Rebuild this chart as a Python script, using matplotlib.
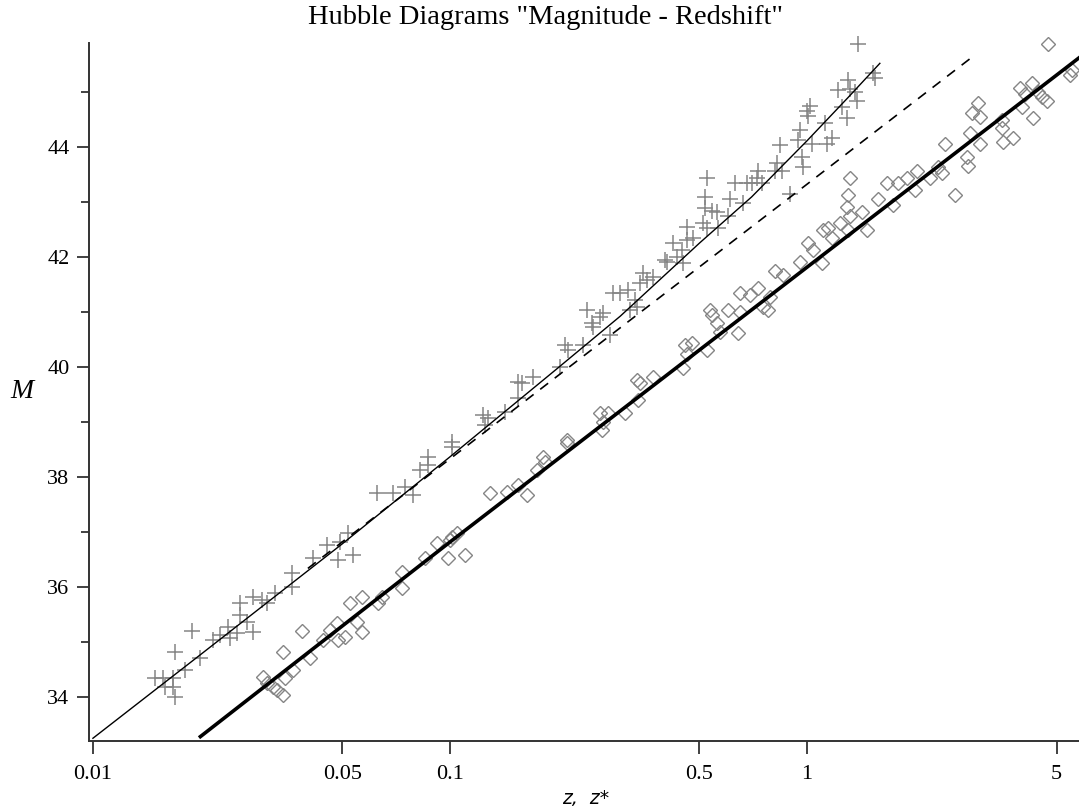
import matplotlib
matplotlib.use("Agg")
import matplotlib.pyplot as plt
from matplotlib.ticker import FixedLocator, FixedFormatter, NullLocator, MultipleLocator

# ---- data ----
z_plus = [0.0149, 0.0157, 0.0159, 0.0168, 0.0168, 0.0170, 0.0170, 0.0181, 0.0189, 0.0200,
          0.0217, 0.0227, 0.0239, 0.0242, 0.0253, 0.0258, 0.0258, 0.0270, 0.0281, 0.0281,
          0.0297, 0.0307, 0.0323, 0.0361, 0.0361, 0.0413, 0.0452, 0.0485, 0.0492, 0.0518,
          0.0535, 0.0625, 0.0692, 0.0748, 0.0788, 0.0824, 0.0868, 0.0868, 0.1013, 0.1013,
          0.1236, 0.1276, 0.1253, 0.1426, 0.1549, 0.1591, 0.1708, 0.1549, 0.2032, 0.2099,
          0.2142, 0.2360, 0.2421, 0.2500, 0.2518, 0.2633, 0.2685, 0.2808, 0.2864, 0.2994,
          0.3153, 0.3193, 0.3298, 0.3342, 0.3404, 0.3474, 0.3565, 0.3707, 0.4003, 0.4058,
          0.4219, 0.4325, 0.4467, 0.4498, 0.4613, 0.4613, 0.4797, 0.5117, 0.5250, 0.5179,
          0.5179, 0.5250, 0.5422, 0.5599, 0.5636, 0.6012, 0.6085, 0.6285, 0.6617, 0.6792,
          0.7015, 0.7245, 0.7294, 0.7483, 0.8136, 0.8241, 0.8396, 0.8505, 0.8954, 0.9436,
          0.9550, 0.9679, 0.9744, 1.000, 1.006, 1.019, 1.032, 1.122, 1.137, 1.175,
          1.221, 1.253, 1.294, 1.303, 1.319, 1.362, 1.380, 1.389, 1.531, 1.552]
M_plus = [34.35, 34.35, 34.18, 34.35, 34.18, 34.00, 34.82, 34.49, 35.20, 34.71,
          35.04, 35.13, 35.27, 35.07, 35.16, 35.71, 35.49, 35.36, 35.18, 35.82,
          35.76, 35.71, 35.89, 36.25, 36.00, 36.53, 36.76, 36.49, 36.82, 36.98,
          36.58, 37.71, 37.71, 37.82, 37.67, 38.13, 38.36, 38.22, 38.64, 38.55,
          39.13, 39.07, 38.95, 39.18, 39.73, 39.71, 39.82, 39.44, 40.00, 40.40,
          40.31, 40.40, 41.04, 40.80, 40.73, 40.91, 40.98, 40.58, 41.35, 41.35,
          41.40, 41.04, 41.22, 41.09, 41.53, 41.71, 41.58, 41.64, 41.95, 41.91,
          42.27, 42.00, 42.13, 41.89, 42.55, 42.31, 42.36, 42.62, 42.53, 42.89,
          43.09, 43.44, 42.85, 42.82, 42.53, 42.76, 43.07, 43.35, 42.98, 43.35,
          43.35, 43.44, 43.58, 43.35, 43.58, 43.71, 44.04, 43.58, 43.16, 44.13,
          44.31, 43.82, 43.64, 44.67, 44.58, 44.76, 44.07, 44.44, 44.07, 44.18,
          45.04, 44.73, 44.53, 45.22, 45.07, 45.00, 44.85, 45.89, 45.36, 45.27]

z_diam = [0.0299, 0.0307, 0.0319, 0.0328, 0.0340, 0.0345, 0.0340, 0.0363, 0.0385, 0.0405,
          0.0441, 0.0461, 0.0482, 0.0485, 0.0508, 0.0525, 0.0549, 0.0567, 0.0567, 0.0629,
          0.0645, 0.0734, 0.0734, 0.0851, 0.0920, 0.0987, 0.1000, 0.1013, 0.1047, 0.1102,
          0.1295, 0.1445, 0.1549, 0.1642, 0.1753, 0.1823, 0.1846, 0.2128, 0.2128, 0.2633,
          0.2685, 0.2667, 0.2773, 0.3093, 0.3342, 0.3404, 0.3365, 0.3707, 0.4498, 0.4550,
          0.4613, 0.4764, 0.5250, 0.5350, 0.5422, 0.5599, 0.5705, 0.6012, 0.6413, 0.6489,
          0.6489, 0.6918, 0.7294, 0.7534, 0.7780, 0.7871, 0.8128, 0.8570, 0.9550, 1.006,
          1.040, 1.102, 1.109, 1.145, 1.175, 1.237, 1.294, 1.303, 1.319, 1.303,
          1.319, 1.426, 1.472, 1.580, 1.675, 1.741, 1.798, 1.906, 2.008, 2.032,
          2.211, 2.329, 2.389, 2.436, 2.600, 2.807, 2.826, 2.864, 2.900, 3.013,
          3.052, 3.052, 3.518, 3.518, 3.540, 3.775, 3.952, 4.001, 4.080, 4.268,
          4.296, 4.436, 4.552, 4.700, 4.731, 5.453, 5.520]
M_diam = [34.36, 34.25, 34.18, 34.13, 34.04, 34.35, 34.82, 34.49, 35.20, 34.71,
          35.04, 35.22, 35.35, 35.04, 35.09, 35.71, 35.36, 35.82, 35.18, 35.71,
          35.82, 36.27, 35.98, 36.53, 36.80, 36.53, 36.85, 36.91, 36.98, 36.58,
          37.71, 37.73, 37.85, 37.67, 38.13, 38.36, 38.27, 38.67, 38.62, 39.16,
          39.00, 38.85, 39.16, 39.16, 39.76, 39.71, 39.40, 39.82, 39.98, 40.40,
          40.25, 40.45, 40.31, 41.04, 40.95, 40.80, 40.64, 41.04, 40.62, 41.36,
          41.00, 41.31, 41.44, 41.09, 41.04, 41.27, 41.76, 41.67, 41.91, 42.27,
          42.13, 41.89, 42.49, 42.53, 42.35, 42.62, 42.91, 43.13, 43.44, 42.49,
          42.76, 42.82, 42.49, 43.07, 43.36, 42.95, 43.35, 43.45, 43.22, 43.58,
          43.45, 43.64, 43.53, 44.07, 43.13, 43.82, 43.67, 44.27, 44.62, 44.80,
          44.55, 44.07, 44.49, 44.35, 44.09, 44.18, 45.09, 44.73, 44.98, 45.18,
          44.53, 45.00, 44.91, 44.85, 45.89, 45.31, 45.40]

# model curves
z_fit_plus = [0.01, 0.02, 0.05, 0.1, 0.2, 0.3, 0.5, 0.7, 1.0, 1.3, 1.6]
M_fit_plus = [33.25, 34.77, 36.79, 38.37, 39.98, 40.93, 42.26, 43.10, 44.12, 44.90, 45.53]
z_dash = [0.04, 0.2, 1.0, 2.95]
M_dash = [36.34, 39.84, 43.33, 45.68]
z_fit_diam = [0.02, 0.1, 1.0, 5.78]
M_fit_diam = [33.28, 36.82, 41.82, 45.63]

x_ticks = [0.01, 0.05, 0.1, 0.5, 1, 5]
x_ticklabels = ["0.01", "0.05", "0.1", "0.5", "1", "5"]
y_ticks = [34, 36, 38, 40, 42, 44]

W, H = 1079, 809
fig = plt.figure(figsize=(W / 100, H / 100), dpi=100)
ax = fig.add_axes([89 / W, 1 - 741 / H, 1 - 89 / W, (741 - 43) / H])

gray = "#858585"
ax.plot(z_plus, M_plus, linestyle="none", marker="+", markersize=11, mew=1.1,
        color=gray, clip_on=False, zorder=2)
ax.plot(z_diam, M_diam, linestyle="none", marker="D", markersize=7.5, mew=1.0,
        markerfacecolor="none", markeredgecolor=gray, clip_on=False, zorder=2)

ax.plot(z_fit_plus, M_fit_plus, color="black", lw=1.0, zorder=3)
ax.plot(z_dash, M_dash, color="black", lw=1.2, dashes=(6, 5), zorder=3)
ax.plot(z_fit_diam, M_fit_diam, color="black", lw=2.6, zorder=3)

ax.set_xscale("log")
ax.set_xlim(0.00975, 5.78)
ax.set_ylim(33.2, 45.9)

ax.xaxis.set_major_locator(FixedLocator(x_ticks))
ax.xaxis.set_major_formatter(FixedFormatter(x_ticklabels))
ax.xaxis.set_minor_locator(NullLocator())
ax.yaxis.set_major_locator(FixedLocator(y_ticks))
ax.yaxis.set_minor_locator(MultipleLocator(1))

for s in ("top", "right"):
    ax.spines[s].set_visible(False)
for s in ("left", "bottom"):
    ax.spines[s].set_color("#333333")
    ax.spines[s].set_linewidth(1.4)

ax.tick_params(axis="both", which="major", length=9, width=1.3, color="#333333",
               labelsize=16, direction="out")
ax.tick_params(axis="x", which="major", pad=8)
ax.tick_params(axis="y", which="major", pad=5)
ax.tick_params(axis="y", which="minor", length=6, width=1.3, color="#333333")
for lab in ax.get_xticklabels() + ax.get_yticklabels():
    lab.set_fontfamily("Liberation Serif")

fig.text(545 / W, 1 - 17 / H, 'Hubble Diagrams "Magnitude - Redshift"',
         ha="center", va="center", fontsize=20.5, family="Liberation Serif")
fig.text(22 / W, 1 - 392 / H, "M", ha="center", va="center", fontsize=20,
         family="Liberation Serif", style="italic")
fig.text(586 / W, 1 - 798 / H, "z,  z*", ha="center", va="center", fontsize=13.5,
         family="DejaVu Sans", style="italic")

fig.savefig("out.png", dpi=100)
